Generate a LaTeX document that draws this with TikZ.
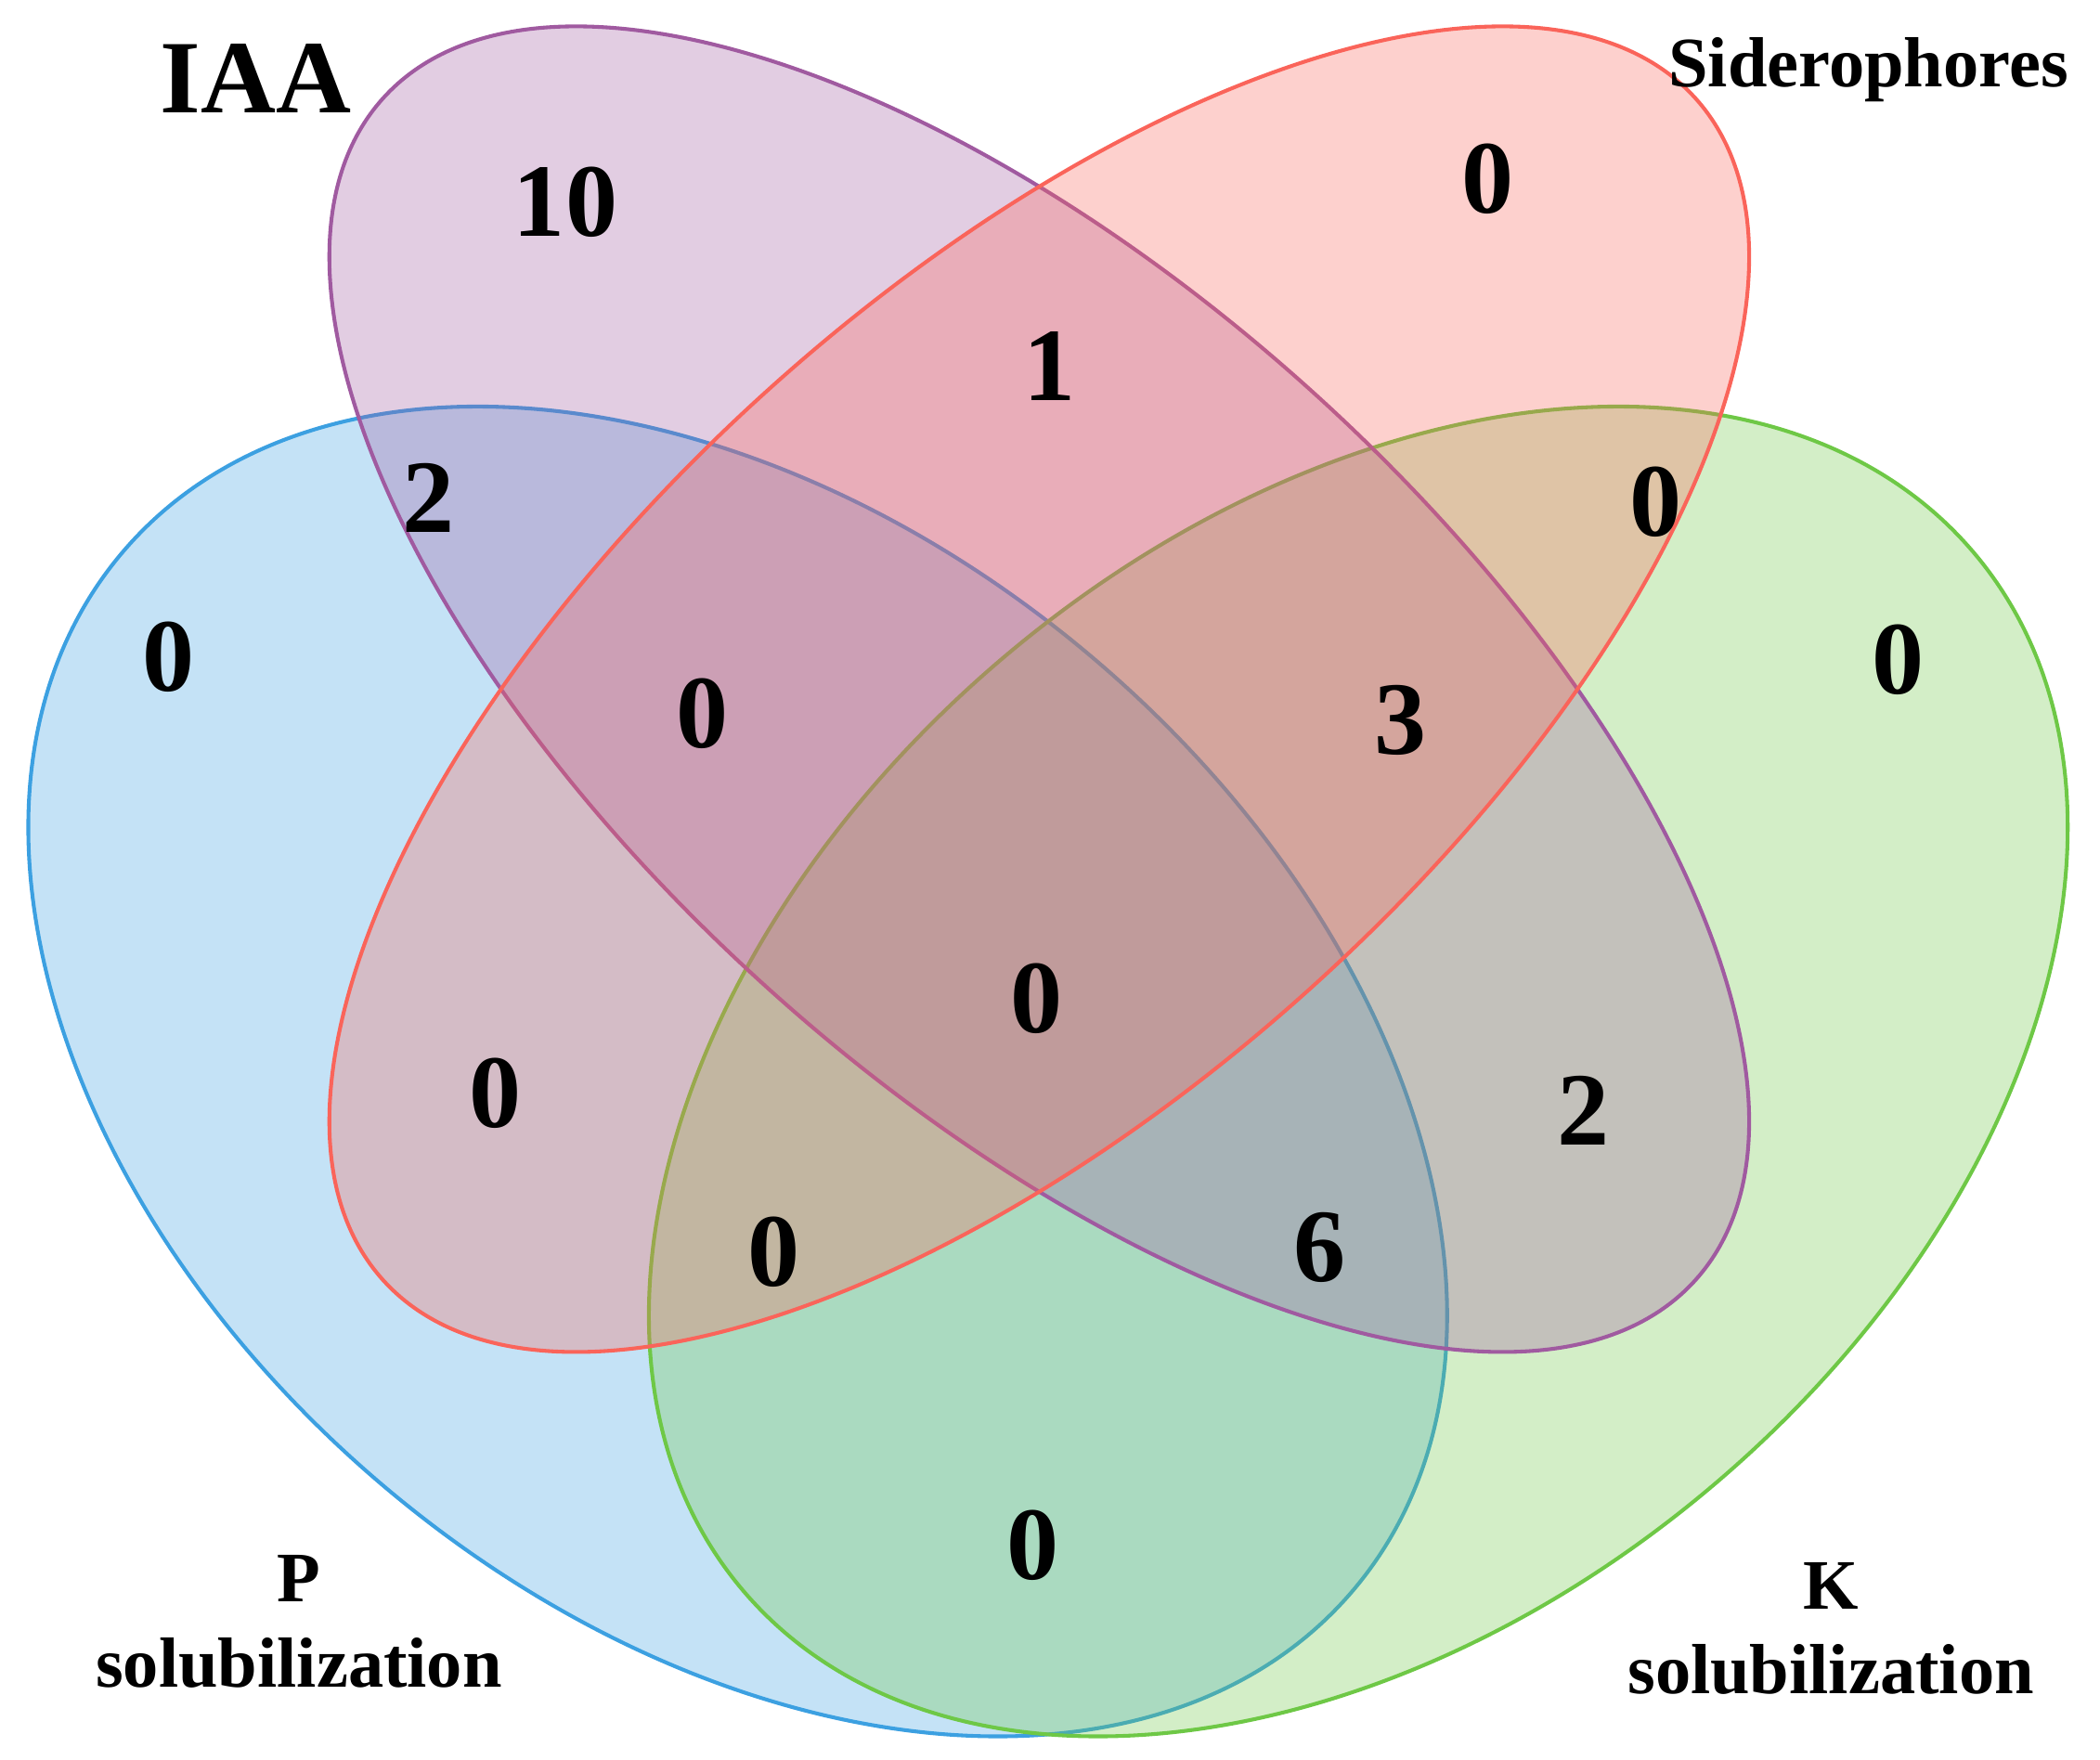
\documentclass[tikz,border=0pt]{standalone}
\usepackage{fontspec}
\setmainfont{Liberation Serif}
\definecolor{iaacol}{RGB}{160,90,160}
\definecolor{sidcol}{RGB}{250,100,90}
\definecolor{pcol}{RGB}{60,160,225}
\definecolor{kcol}{RGB}{110,200,70}
\begin{document}
\begin{tikzpicture}[
    set/.style={draw=#1, fill=#1, fill opacity=0.3, line width=0.8pt},
    num/.style={font=\fontsize{22}{24}\selectfont\bfseries},
    title/.style={font=\fontsize{15}{18}\selectfont\bfseries, align=center}
]
\useasboundingbox (0,0) rectangle (15.6,-13.07);
% sets
\path[set=pcol] (5.48,-7.96) circle [x radius=5.98, y radius=4.05, rotate=-40];
\path[set=kcol] (10.09,-7.96) circle [x radius=5.98, y radius=4.05, rotate=40];
\path[set=iaacol] (7.72,-5.12) circle [x radius=6.56, y radius=3.0, rotate=-42];
\path[set=sidcol] (7.72,-5.12) circle [x radius=6.56, y radius=3.0, rotate=42];
% titles
\node (iaa) [font=\fontsize{22}{24}\selectfont\bfseries] at (1.9,-0.58) {IAA};
\node (sid) [title] at (13.88,-0.52) {Siderophores};
\node (psol) [title] at (2.22,-12.05) {P\\solubilization};
\node (ksol) [title] at (13.6,-12.1) {K\\solubilization};
% counts
\foreach \x/\y/\n [count=\i] in {4.2/1.5/10, 11.05/1.33/0, 7.8/2.72/1, 3.18/3.7/2,
    12.3/3.73/0, 1.25/4.88/0, 5.22/5.3/0, 10.4/5.35/3, 14.1/4.9/0, 7.7/7.42/0,
    3.68/8.12/0, 11.76/8.25/2, 5.75/9.3/0, 9.8/9.27/6, 7.67/11.48/0}
  \node (n\i) [num] at (\x,-\y) {\n};
\end{tikzpicture}
\end{document}
